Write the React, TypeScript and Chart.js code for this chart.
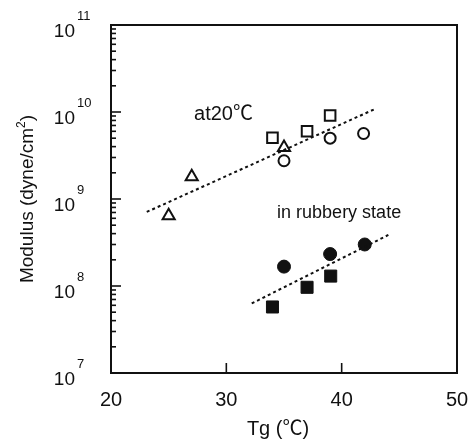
import React, { useEffect, useRef } from "react";
import { Chart, registerables } from "chart.js";

Chart.register(...registerables);

// Tg (°C) against modulus (dyne/cm²)
const TRIANGLE_TG = [25, 27, 35];
const TRIANGLE_MOD = [6.4e8, 1.8e9, 3.9e9];

const SQUARE_TG = [34, 37, 39];
const SQUARE_MOD = [5.05e9, 6.0e9, 9.1e9];

const CIRCLE_TG = [35, 39, 41.9];
const CIRCLE_MOD = [2.75e9, 5.0e9, 5.66e9];

const RUBBERY_CIRCLE_TG = [35, 39, 42];
const RUBBERY_CIRCLE_MOD = [1.67e8, 2.33e8, 3.0e8];

const RUBBERY_SQUARE_TG = [34, 37, 39.05];
const RUBBERY_SQUARE_MOD = [5.74e7, 9.66e7, 1.3e8];

// fitted trend lines (end points)
const AT20_FIT_TG = [23.1, 43.0];
const AT20_FIT_MOD = [7.1e8, 1.1e10];
const RUBBERY_FIT_TG = [32.2, 44.05];
const RUBBERY_FIT_MOD = [6.3e7, 3.86e8];

// axes
const X_TICKS = [20, 30, 40, 50];
const Y_EXPONENTS = [7, 8, 9, 10, 11];
const Y_MINOR = [2, 3, 4, 5, 6, 7, 8, 9];

const INK = "#111";
const FONT = '"Liberation Sans", Arial, Helvetica, "Noto Sans CJK JP", sans-serif';

const pts = (xs: number[], ys: number[]) => xs.map((x, i) => ({ x, y: ys[i] }));

const axesPlugin = {
  id: "axesFrame",
  afterDraw(chart: any) {
    const { ctx, chartArea: a, scales } = chart;
    const xs = scales.x;
    const ys = scales.y;
    ctx.save();
    ctx.strokeStyle = INK;
    ctx.fillStyle = INK;

    // frame
    ctx.lineWidth = 2;
    ctx.strokeRect(a.left, a.top, a.right - a.left, a.bottom - a.top);

    const seg = (x1: number, y1: number, x2: number, y2: number) => {
      ctx.beginPath();
      ctx.moveTo(x1, y1);
      ctx.lineTo(x2, y2);
      ctx.stroke();
    };

    // inward ticks on the log axis
    ctx.lineWidth = 1.6;
    Y_EXPONENTS.forEach((e, i) => {
      const dec = Math.pow(10, e);
      const py = ys.getPixelForValue(dec);
      seg(a.left, py, a.left + 10, py);
      if (i < Y_EXPONENTS.length - 1) {
        Y_MINOR.forEach((m) => {
          const my = ys.getPixelForValue(dec * m);
          seg(a.left, my, a.left + 5, my);
        });
      }
    });

    // inward ticks on the Tg axis
    X_TICKS.forEach((v) => {
      if (v > xs.min && v < xs.max) {
        const px = xs.getPixelForValue(v);
        seg(px, a.bottom, px, a.bottom - 10);
      }
    });

    // x tick labels
    ctx.font = `20px ${FONT}`;
    ctx.textAlign = "center";
    ctx.textBaseline = "middle";
    X_TICKS.forEach((v) => {
      ctx.fillText(String(v), xs.getPixelForValue(v), a.bottom + 27);
    });

    // y tick labels: 10 with a raised exponent
    Y_EXPONENTS.forEach((e) => {
      const py = ys.getPixelForValue(Math.pow(10, e));
      ctx.font = `19px ${FONT}`;
      ctx.textAlign = "right";
      ctx.textBaseline = "middle";
      ctx.fillText("10", 75, py + 7);
      ctx.font = `13px ${FONT}`;
      ctx.textAlign = "left";
      ctx.fillText(String(e), 77, py - 9);
    });

    // x axis title
    ctx.font = `20px ${FONT}`;
    ctx.textAlign = "center";
    ctx.textBaseline = "alphabetic";
    ctx.fillText("Tg (℃)", (a.left + a.right) / 2 - 6, 435);

    // y axis title, rotated, with a superscript 2
    ctx.save();
    ctx.translate(33, (a.top + a.bottom) / 2);
    ctx.rotate(-Math.PI / 2);
    const main = "Modulus (dyne/cm";
    ctx.font = `19px ${FONT}`;
    const wMain = ctx.measureText(main).width;
    ctx.font = `12px ${FONT}`;
    const wSup = ctx.measureText("2").width;
    ctx.font = `19px ${FONT}`;
    const wClose = ctx.measureText(")").width;
    const total = wMain + wSup + wClose;
    let cx = -total / 2;
    ctx.textAlign = "left";
    ctx.fillText(main, cx, 0);
    cx += wMain;
    ctx.font = `12px ${FONT}`;
    ctx.fillText("2", cx, -8);
    cx += wSup;
    ctx.font = `19px ${FONT}`;
    ctx.fillText(")", cx, 0);
    ctx.restore();

    // in-plot labels
    ctx.font = `20px ${FONT}`;
    ctx.textAlign = "left";
    ctx.textBaseline = "alphabetic";
    ctx.fillText("at20℃", xs.getPixelForValue(27.2), ys.getPixelForValue(8.1e9));
    ctx.font = `18px ${FONT}`;
    ctx.fillText("in rubbery state", xs.getPixelForValue(34.4), ys.getPixelForValue(6.05e8));

    ctx.restore();
  },
};

export default function App() {
  const ref = useRef<HTMLCanvasElement>(null);

  useEffect(() => {
    const canvas = ref.current;
    if (!canvas) return;

    const openPt = {
      backgroundColor: "rgba(0,0,0,0)",
      borderColor: INK,
      borderWidth: 2,
      showLine: false,
    };
    const filledPt = {
      backgroundColor: INK,
      borderColor: INK,
      borderWidth: 1,
      showLine: false,
    };
    const fitLine = {
      showLine: true,
      borderColor: INK,
      borderWidth: 2,
      borderDash: [3, 3],
      pointRadius: 0,
      fill: false,
    };

    const chart = new Chart(canvas, {
      type: "scatter",
      data: {
        datasets: [
          { label: "at20 fit", data: pts(AT20_FIT_TG, AT20_FIT_MOD), ...fitLine },
          { label: "rubbery fit", data: pts(RUBBERY_FIT_TG, RUBBERY_FIT_MOD), ...fitLine },
          { label: "triangle", data: pts(TRIANGLE_TG, TRIANGLE_MOD), pointStyle: "triangle", pointRadius: 7, ...openPt },
          { label: "square", data: pts(SQUARE_TG, SQUARE_MOD), pointStyle: "rect", pointRadius: 7.5, ...openPt },
          { label: "circle", data: pts(CIRCLE_TG, CIRCLE_MOD), pointStyle: "circle", pointRadius: 5.5, ...openPt },
          { label: "rubbery circle", data: pts(RUBBERY_CIRCLE_TG, RUBBERY_CIRCLE_MOD), pointStyle: "circle", pointRadius: 6.5, ...filledPt },
          { label: "rubbery square", data: pts(RUBBERY_SQUARE_TG, RUBBERY_SQUARE_MOD), pointStyle: "rect", pointRadius: 8.5, ...filledPt },
        ] as any,
      },
      options: {
        responsive: false,
        animation: false,
        devicePixelRatio: 1,
        events: [],
        layout: { padding: { left: 111, top: 25, right: 14, bottom: 67 } },
        plugins: {
          legend: { display: false },
          tooltip: { enabled: false },
          title: { display: false },
        },
        scales: {
          x: { type: "linear", min: 20, max: 50, display: false },
          y: { type: "logarithmic", min: 1e7, max: 1e11, display: false },
        },
      },
      plugins: [axesPlugin],
    });

    return () => chart.destroy();
  }, []);

  return (
    <div style={{ position: "fixed", left: 0, top: 0, width: 471, height: 440, background: "#fff" }}>
      <canvas ref={ref} width={471} height={440} style={{ display: "block" }} />
    </div>
  );
}
